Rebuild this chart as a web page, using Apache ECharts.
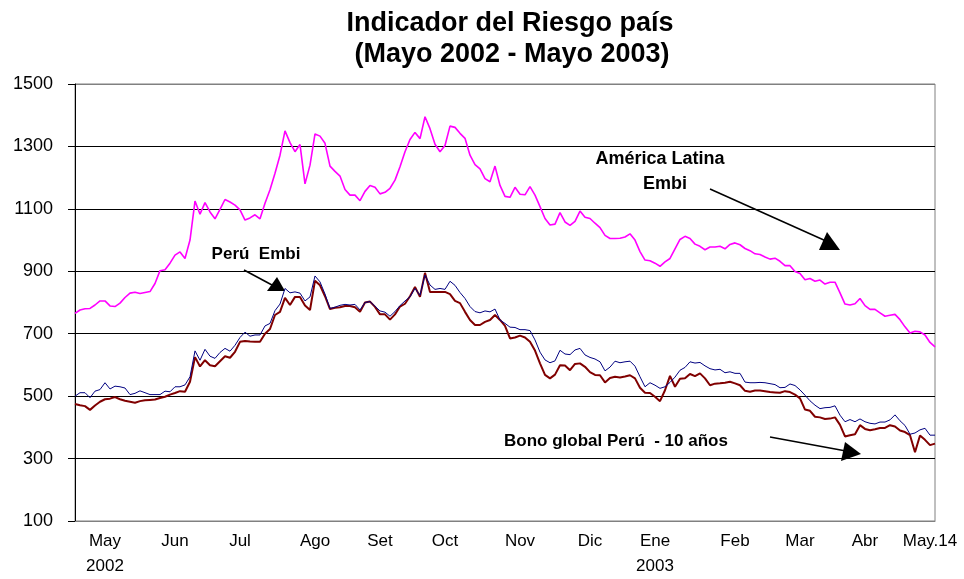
<!DOCTYPE html>
<html>
<head>
<meta charset="utf-8">
<title>Indicador del Riesgo país</title>
<script src="https://cdn.jsdelivr.net/npm/echarts@6/dist/echarts.min.js"></script>
<style>
  html, body { margin: 0; padding: 0; background: #fff; }
  #chart { width: 964px; height: 579px; }
</style>
</head>
<body>
<div id="chart"></div>
<script>
// month labels and the sample index where each one sits
const monthLabels = ["May\n2002", "Jun", "Jul", "Ago", "Set", "Oct", "Nov", "Dic", "Ene\n2003", "Feb", "Mar", "Abr", "May.14"];
const monthAt = [6, 20, 33, 48, 61, 74, 89, 103, 116, 132, 145, 158, 171];

const yTicks = [100, 300, 500, 700, 900, 1100, 1300, 1500];

// América Latina Embi
const latam = [
  765, 776, 780, 781, 792, 805, 805, 789, 787, 798,
  816, 830, 833, 829, 832, 835, 861, 902, 905, 926,
  952, 962, 941, 1000, 1125, 1083, 1120, 1090, 1068, 1098,
  1130, 1122, 1112, 1097, 1064, 1071, 1081, 1068, 1118, 1161,
  1214, 1272, 1350, 1312, 1283, 1306, 1180, 1240, 1340, 1333,
  1310, 1237, 1220, 1205, 1162, 1144, 1144, 1126, 1156, 1175,
  1169, 1148, 1153, 1166, 1192, 1235, 1283, 1322, 1345, 1325,
  1395, 1357, 1307, 1283, 1303, 1365, 1361, 1342, 1326, 1272,
  1242, 1228, 1197, 1187, 1237, 1175, 1140, 1137, 1169, 1147,
  1145, 1171, 1144, 1107, 1069, 1048, 1051, 1088, 1058, 1047,
  1060, 1093, 1073, 1069, 1054, 1040, 1015, 1005, 1005, 1006,
  1010, 1020, 1000, 963, 936, 934, 926, 916, 930, 941,
  972, 1002, 1012, 1005, 987, 980, 969, 978, 978, 980,
  972, 986, 991, 985, 973, 966, 956, 954, 946, 939,
  942, 932, 918, 918, 899, 893, 873, 877, 868, 872,
  859, 865, 865, 831, 795, 792, 796, 813, 790, 778,
  778, 767, 756, 759, 762, 745, 722, 702, 708, 706,
  696, 672, 658
];

// Perú Embi
const peruEmbi = [
  500, 511, 511, 495, 516, 521, 543, 523, 532, 530,
  526, 505, 509, 517, 511, 505, 505, 505, 516, 514,
  530, 530, 536, 562, 645, 615, 650, 628, 621, 640,
  653, 644, 663, 688, 705, 692, 696, 696, 725, 733,
  774, 795, 845, 831, 834, 830, 805, 818, 885, 866,
  827, 781, 785, 791, 794, 792, 794, 776, 800, 803,
  788, 773, 769, 756, 771, 790, 805, 818, 845, 823,
  888, 856, 842, 845, 842, 868, 855, 832, 813, 787,
  771, 767, 773, 770, 779, 744, 733, 721, 720, 713,
  713, 710, 680, 641, 616, 607, 613, 647, 635, 633,
  648, 653, 632, 624, 619, 610, 581, 593, 612, 607,
  610, 612, 596, 562, 530, 543, 535, 525, 530, 544,
  561, 583, 592, 610, 606, 608, 597, 588, 584, 586,
  575, 578, 573, 573, 545, 543, 543, 544, 543, 540,
  537, 527, 528, 539, 534, 520, 503, 485, 471, 460,
  463, 464, 469, 439, 418, 425, 418, 427, 418, 413,
  411, 417, 417, 424, 440, 421, 406, 378, 382, 392,
  397, 375, 375
];

// Bono global Perú - 10 años
const bonoGlobal = [
  475, 471, 468, 456, 470, 482, 490, 492, 497, 490,
  485, 482, 479, 484, 487, 488, 489, 494, 498, 505,
  510, 516, 514, 546, 625, 595, 615, 599, 596, 612,
  628, 623, 642, 674, 677, 675, 674, 674, 700, 715,
  760, 770, 815, 792, 818, 818, 790, 776, 870, 855,
  820, 779, 783, 785, 789, 789, 785, 770, 800, 803,
  786, 762, 762, 745, 762, 787, 796, 820, 850, 818,
  895, 834, 834, 834, 834, 827, 805, 798, 770, 744,
  728, 728, 738, 744, 760, 744, 725, 685, 688, 694,
  688, 674, 646, 605, 568, 557, 569, 599, 598, 583,
  603, 605, 594, 577, 568, 567, 544, 558, 562, 560,
  563, 567, 557, 527, 511, 510, 498, 484, 519, 565,
  530, 556, 557, 571, 564, 573, 557, 535, 540, 541,
  543, 546, 541, 535, 517, 514, 518, 518, 516, 513,
  512, 511, 516, 513, 505, 493, 457, 453, 434, 432,
  427, 428, 432, 408, 371, 375, 378, 407, 395, 391,
  394, 398, 398, 407, 403, 390, 385, 375, 320, 374,
  360, 343, 348
];

const categories = latam.map(() => "");
monthAt.forEach((idx, k) => { categories[idx] = monthLabels[k]; });

const font = "'Liberation Sans', Arial, sans-serif";

const chart = echarts.init(document.getElementById("chart"));
chart.setOption({
  animation: false,
  textStyle: { fontFamily: font },
  grid: {
    left: 75, right: 29, top: 84, bottom: 57,
    show: true, borderColor: "#808080", borderWidth: 1
  },
  xAxis: {
    type: "category",
    data: categories,
    boundaryGap: false,
    axisLine: { lineStyle: { color: "#808080", width: 1 } },
    axisTick: { show: false },
    axisLabel: {
      interval: (i, v) => v !== "",
      color: "#000",
      fontSize: 17,
      lineHeight: 25,
      margin: 8,
      fontFamily: font
    },
    splitLine: { show: false }
  },
  yAxis: {
    type: "value",
    min: yTicks[0],
    max: yTicks[yTicks.length - 1],
    interval: 200,
    axisLine: { show: true, lineStyle: { color: "#000", width: 1 } },
    axisTick: { show: true, length: 7, lineStyle: { color: "#000" } },
    axisLabel: {
      color: "#000", fontSize: 18, margin: 22, fontFamily: font,
      formatter: v => String(v)
    },
    splitLine: {
      lineStyle: {
        color: yTicks.map((t, i) => (i === 0 || i === yTicks.length - 1) ? "#808080" : "#000"),
        width: 1
      }
    }
  },
  series: [
    {
      name: "América Latina Embi",
      type: "line",
      data: latam,
      showSymbol: false,
      lineStyle: { color: "#ff00ff", width: 1.6 }
    },
    {
      name: "Bono global Perú - 10 años",
      type: "line",
      data: bonoGlobal,
      showSymbol: false,
      lineStyle: { color: "#800000", width: 2 }
    },
    {
      name: "Perú Embi",
      type: "line",
      data: peruEmbi,
      showSymbol: false,
      lineStyle: { color: "#000080", width: 1 }
    }
  ],
  graphic: [
    { type: "text", x: 510, y: 24, style: { text: "Indicador del Riesgo país", font: "bold 27px " + font, fill: "#000", textAlign: "center", textVerticalAlign: "middle" } },
    { type: "text", x: 512, y: 55, style: { text: "(Mayo 2002 - Mayo 2003)", font: "bold 27px " + font, fill: "#000", textAlign: "center", textVerticalAlign: "middle" } },

    { type: "text", x: 660, y: 159, style: { text: "América Latina", font: "bold 18px " + font, fill: "#000", textAlign: "center", textVerticalAlign: "middle" } },
    { type: "text", x: 665, y: 184, style: { text: "Embi", font: "bold 18px " + font, fill: "#000", textAlign: "center", textVerticalAlign: "middle" } },
    { type: "line", shape: { x1: 710, y1: 189, x2: 826, y2: 241 }, style: { stroke: "#000", lineWidth: 1.5 } },
    { type: "polygon", shape: { points: [[827, 232], [819, 250], [840, 250]] }, style: { fill: "#000" } },

    { type: "text", x: 256, y: 254, style: { text: "Perú  Embi", font: "bold 17px " + font, fill: "#000", textAlign: "center", textVerticalAlign: "middle" } },
    { type: "line", shape: { x1: 244, y1: 270, x2: 272, y2: 285 }, style: { stroke: "#000", lineWidth: 1.5 } },
    { type: "polygon", shape: { points: [[277, 277], [267, 291], [285, 291]] }, style: { fill: "#000" } },

    { type: "text", x: 616, y: 441, style: { text: "Bono global Perú  - 10 años", font: "bold 17px " + font, fill: "#000", textAlign: "center", textVerticalAlign: "middle" } },
    { type: "line", shape: { x1: 770, y1: 437, x2: 846, y2: 451 }, style: { stroke: "#000", lineWidth: 1.5 } },
    { type: "polygon", shape: { points: [[845, 442], [841, 461], [861, 454]] }, style: { fill: "#000" } }
  ]
});
</script>
</body>
</html>
